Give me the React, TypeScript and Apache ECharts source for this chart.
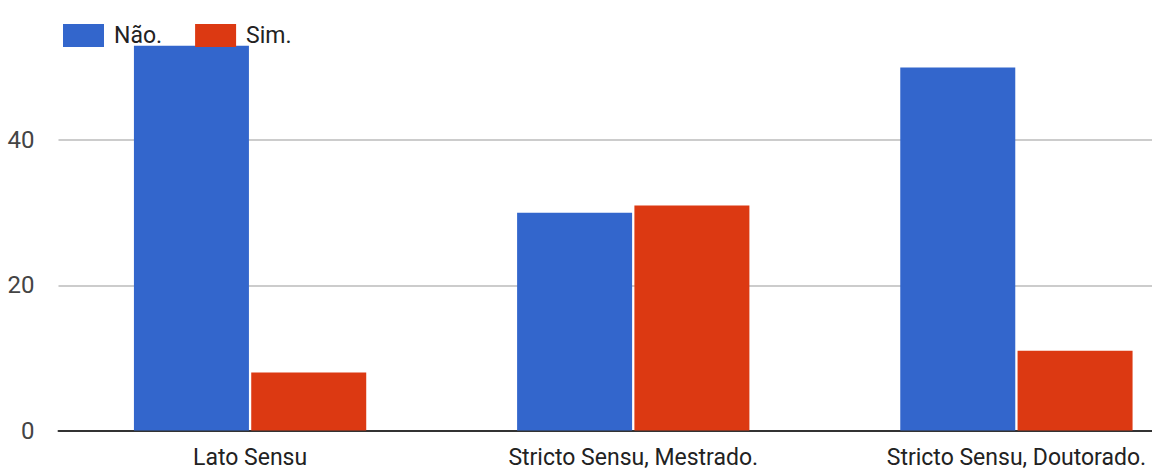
import React, { useEffect, useRef } from "react";
import * as echarts from "echarts";

const categories = ["Lato Sensu", "Stricto Sensu, Mestrado.", "Stricto Sensu, Doutorado."];
const naoValues = [53, 30, 50];
const simValues = [8, 31, 11];
const seriesNames = ["Não.", "Sim."];
const yTicks = [0, 20, 40, 60];

const FONT = "Roboto, 'Liberation Sans', sans-serif";

// The plot area runs a little past the top and right of the visible frame,
// so the chart is drawn on a larger canvas clipped by an outer box.
const VIEW_W = 1152;
const VIEW_H = 472;
const OVER_TOP = 5;
const OVER_RIGHT = 56;

export default function App() {
  const ref = useRef<HTMLDivElement>(null);

  useEffect(() => {
    document.body.style.margin = "0";
    if (!ref.current) return;
    const chart = echarts.init(ref.current, undefined, { renderer: "svg" });
    chart.setOption({
      animation: false,
      backgroundColor: "#ffffff",
      color: ["#3366cc", "#dc3912"],
      legend: {
        left: 58,
        top: 19 + OVER_TOP,
        itemWidth: 41,
        itemHeight: 23,
        itemGap: 33,
        icon: "rect",
        data: seriesNames,
        textStyle: {
          fontFamily: FONT,
          fontSize: 23,
          color: "#222222",
          padding: [0, 0, 0, 5],
        },
      },
      grid: {
        left: 58.5,
        right: 0,
        top: 0,
        bottom: 41.5,
        containLabel: false,
      },
      xAxis: {
        type: "category",
        data: categories,
        axisLine: { show: true, lineStyle: { color: "#333333", width: 2 } },
        axisTick: { show: false },
        axisLabel: {
          fontFamily: FONT,
          fontSize: 23,
          color: "#222222",
          margin: 15,
          interval: 0,
        },
      },
      yAxis: {
        type: "value",
        min: yTicks[0],
        max: yTicks[yTicks.length - 1],
        interval: 20,
        axisLine: { show: false },
        axisTick: { show: false },
        splitLine: { show: true, lineStyle: { color: "#cccccc", width: 2 } },
        axisLabel: {
          fontFamily: FONT,
          fontSize: 24,
          color: "#444444",
          margin: 24,
          showMaxLabel: false,
        },
      },
      series: [
        {
          name: seriesNames[0],
          type: "bar",
          data: naoValues,
          barWidth: 115,
          barGap: "2%",
        },
        {
          name: seriesNames[1],
          type: "bar",
          data: simValues,
          barWidth: 115,
        },
      ],
    });
    return () => chart.dispose();
  }, []);

  return (
    <div style={{ width: VIEW_W, height: VIEW_H, overflow: "hidden", position: "relative", background: "#fff" }}>
      <div
        ref={ref}
        style={{
          position: "absolute",
          left: 0,
          top: -OVER_TOP,
          width: VIEW_W + OVER_RIGHT,
          height: VIEW_H + OVER_TOP,
        }}
      />
    </div>
  );
}
